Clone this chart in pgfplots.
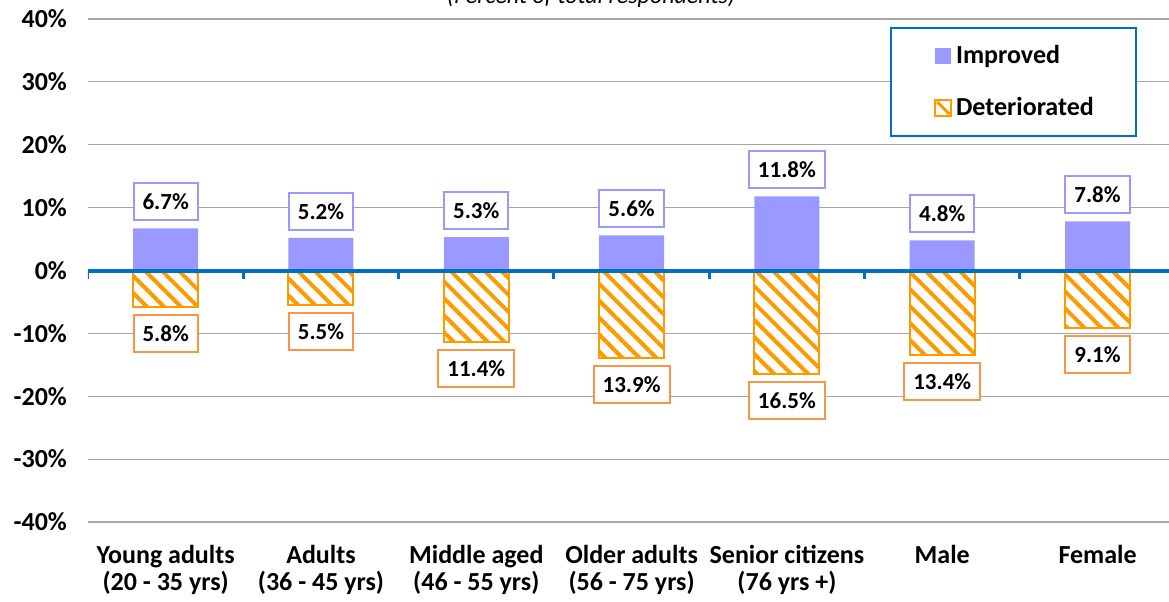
\documentclass[border=0pt]{standalone}
\usepackage{pgfplots}
\pgfplotsset{compat=1.18}
\usepackage{pgfplotstable}
\usepackage{fontspec}
\setmainfont{Carlito}
\usetikzlibrary{patterns.meta}
\definecolor{impcol}{HTML}{9999FF}
\definecolor{detcol}{HTML}{FF9900}
\definecolor{detbox}{HTML}{F79646}
\definecolor{axblue}{HTML}{0070C0}
\definecolor{gridgray}{HTML}{A6A6A6}

\pgfplotstableread{
x imp det
0 6.7 5.8
1 5.2 5.5
2 5.3 11.4
3 5.6 13.9
4 11.8 16.5
5 4.8 13.4
6 7.8 9.1
}\datatable

\begin{document}
\begin{tikzpicture}
\begin{axis}[
    scale only axis,
    width=540.5pt, height=251.5pt,
    xmin=-0.5, xmax=6.46,
    ymin=-40, ymax=40,
    ytick={-40,-30,...,40},
    yticklabels={-40\%,-30\%,-20\%,-10\%,0\%,10\%,20\%,30\%,40\%},
    xtick={0,...,6},
    xticklabels={{Young adults\\(20 - 35 yrs)},{Adults\\(36 - 45 yrs)},{Middle aged\\(46 - 55 yrs)},{Older adults\\(56 - 75 yrs)},{Senior citizens\\(76 yrs +)},{Male},{Female}},
    xticklabel style={align=center, font=\bfseries\fontsize{13}{13.5}\selectfont, yshift=-8pt},
    yticklabel style={font=\bfseries\fontsize{13}{13}\selectfont, xshift=-7pt},
    major tick length=0pt,
    axis line style={draw=none},
    ymajorgrids=true,
    major grid style={gridgray, line width=0.6pt},
    ybar, bar width=32.5pt,
    point meta=explicit,
    legend cell align=left,
    legend style={at={(rel axis cs:0.742,0.984)}, anchor=north west,
        draw=axblue, line width=1pt, fill=white,
        inner xsep=19.25pt, inner ysep=6.5pt, row sep=11.5pt,
        font=\bfseries\fontsize{13}{13}\selectfont},
    legend style={/tikz/every even column/.append style={column sep=0pt}},
]
\addplot[bar shift=0pt, fill=impcol, draw=none,
    legend image code/.code={\path (-2.25pt,0pt); \fill[impcol] (0pt,-4pt) rectangle (8pt,4pt);},
    nodes near coords={\pgfmathprintnumber[fixed,fixed zerofill,precision=1,assume math mode=true]{\pgfplotspointmeta}\%},
    every node near coord/.append style={draw=impcol, fill=white, line width=1pt,
        text=black, font=\bfseries\fontsize{11.5}{11.5}\selectfont,
        inner xsep=4.5pt, minimum height=18.5pt, anchor=south, yshift=3.5pt}]
    table[x=x, y=imp, meta=imp] {\datatable};
\addlegendentry{Improved}
\addplot[bar shift=0pt, draw=detcol, line width=1pt,
    preaction={fill=white},
    pattern={Lines[angle=-45, distance=6pt, line width=2pt]}, pattern color=detcol,
    legend image code/.code={\path (-2.25pt,0pt);
        \draw[detcol, line width=1pt, fill=white] (0pt,-4pt) rectangle (8pt,4pt);
        \draw[detcol, line width=1.5pt] (1pt,3pt) -- (7pt,-3pt);},
    nodes near coords={\pgfmathprintnumber[fixed,fixed zerofill,precision=1,assume math mode=true]{\pgfplotspointmeta}\%},
    every node near coord/.append style={draw=detbox, fill=white, line width=1pt,
        text=black, font=\bfseries\fontsize{11.5}{11.5}\selectfont,
        inner xsep=4.5pt, minimum height=18.5pt, anchor=north, yshift=-3.5pt}]
    table[x=x, y expr=-\thisrow{det}, meta=det] {\datatable};
\addlegendentry{Deteriorated}
\draw[axblue, line width=2pt] (axis cs:-0.5,0) -- (axis cs:6.46,0);
\pgfplotsinvokeforeach{-0.5,0.5,1.5,2.5,3.5,4.5,5.5}{
    \draw[axblue, line width=1.5pt] (axis cs:#1,0) -- ([yshift=-4pt]axis cs:#1,0);
}
\end{axis}
\node[anchor=base, font=\itshape\fontsize{12}{12}\selectfont] at (251.5pt,259pt) {(Percent of total respondents)};
\pgfresetboundingbox
\useasboundingbox (-44pt,-39.5pt) rectangle (540.5pt,261pt);
\end{tikzpicture}
\end{document}
